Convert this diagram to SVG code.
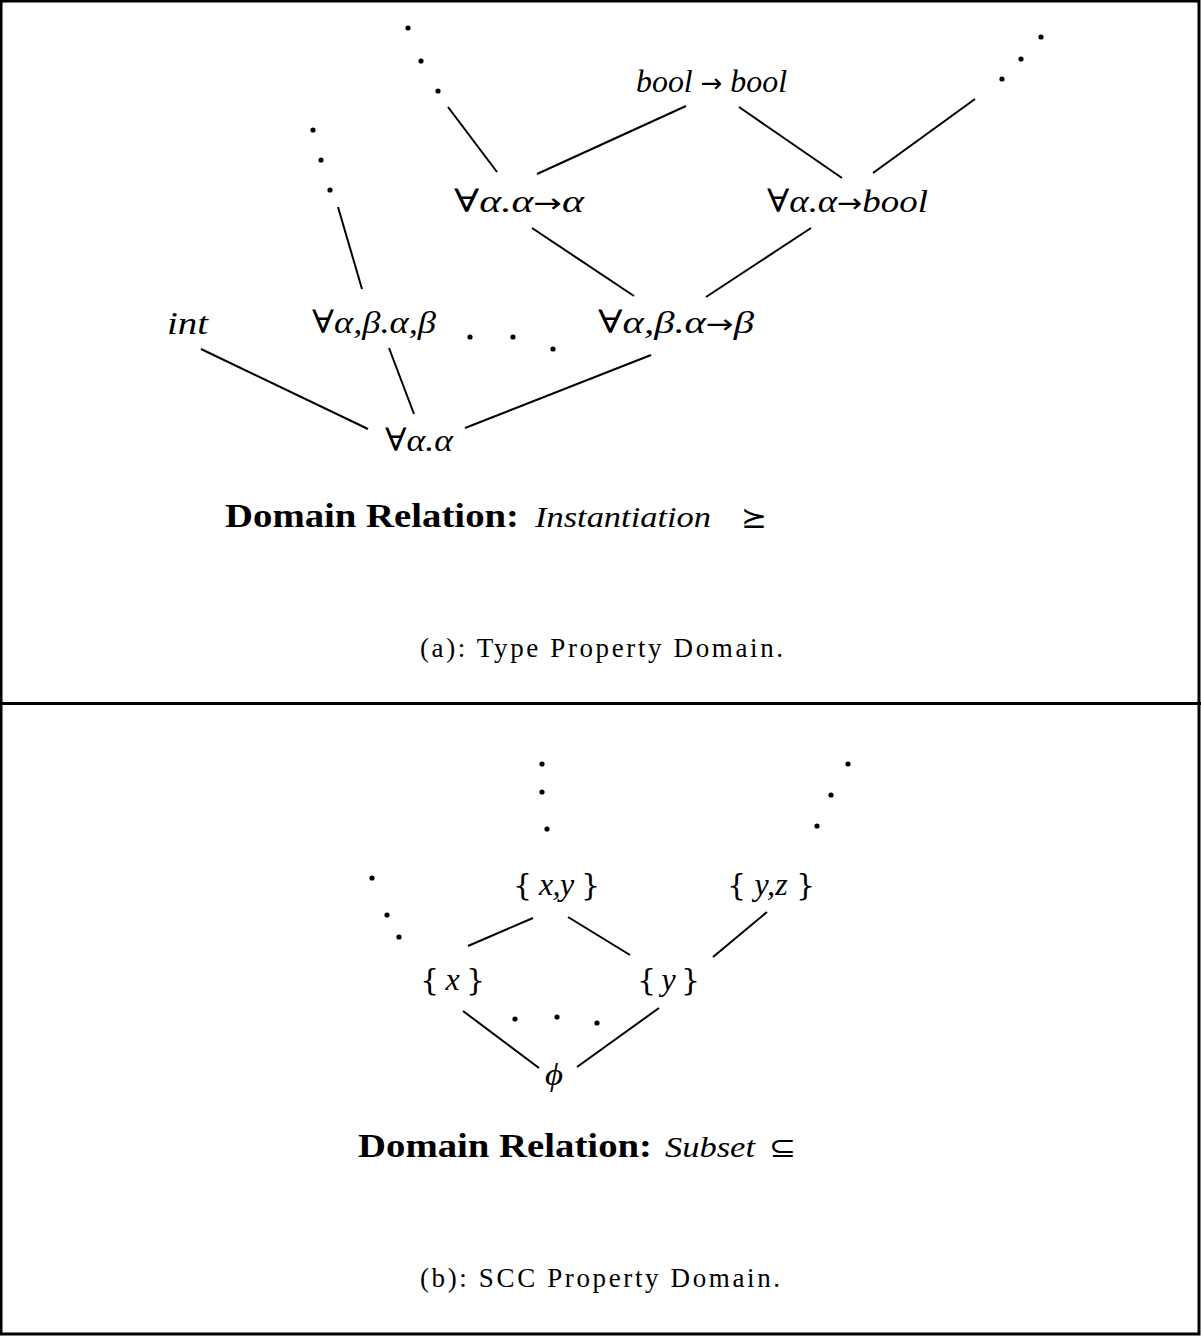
<svg xmlns="http://www.w3.org/2000/svg" width="1201" height="1336" viewBox="0 0 1201 1336">
<style>
.m{font-family:"Liberation Serif","DejaVu Serif",serif;font-size:32px;font-style:italic;fill:#000}
.u{font-style:normal}
.a{font-style:normal;font-family:"DejaVu Sans",sans-serif;font-size:26px}
.br{font-style:normal;font-family:"DejaVu Serif",serif;font-size:30px}
.b{font-family:"Liberation Serif","DejaVu Serif",serif;font-size:33px;font-weight:bold;fill:#000}
.i{font-family:"Liberation Serif","DejaVu Serif",serif;font-size:30px;font-style:italic;fill:#000}
.s{font-family:"DejaVu Sans",sans-serif;font-size:28px;fill:#000}
.c{font-family:"Liberation Serif","DejaVu Serif",serif;font-size:27px;fill:#000}
.e line{stroke:#000;stroke-width:2}
.d circle{fill:#000}
</style>
<rect x="0" y="0" width="1201" height="1336" fill="#fff"/>
<g id="frame" fill="none" stroke="#000">
<rect x="1" y="1" width="1198" height="1333" stroke-width="3"/>
<line x1="0" y1="703.5" x2="1201" y2="703.5" stroke-width="3"/>
</g>
<g id="connectors" class="e">
<line x1="448" y1="107" x2="497" y2="172"/>
<line x1="537" y1="174" x2="686" y2="106"/>
<line x1="739" y1="107" x2="842" y2="178"/>
<line x1="873" y1="173" x2="975" y2="99"/>
<line x1="532" y1="228" x2="634" y2="296"/>
<line x1="811" y1="228" x2="706" y2="297"/>
<line x1="338" y1="207" x2="362" y2="289"/>
<line x1="201" y1="349" x2="368" y2="429"/>
<line x1="389" y1="348" x2="414" y2="414"/>
<line x1="465" y1="428" x2="651" y2="355"/>
<line x1="468" y1="946" x2="533" y2="918"/>
<line x1="568" y1="917" x2="630" y2="955"/>
<line x1="713" y1="957" x2="767" y2="912"/>
<line x1="463" y1="1011" x2="539" y2="1068"/>
<line x1="577" y1="1067" x2="659" y2="1008"/>
</g>
<g id="dots" class="d">
<circle cx="408" cy="28" r="2.6"/><circle cx="421" cy="61" r="2.6"/><circle cx="438" cy="91" r="2.6"/>
<circle cx="313" cy="130" r="2.6"/><circle cx="321" cy="160" r="2.6"/><circle cx="330" cy="190" r="2.6"/>
<circle cx="1041" cy="37" r="2.6"/><circle cx="1021" cy="59" r="2.6"/><circle cx="1002" cy="79" r="2.6"/>
<circle cx="470" cy="337" r="2.6"/><circle cx="513" cy="337" r="2.6"/><circle cx="553" cy="349" r="2.6"/>
<circle cx="542" cy="764" r="2.6"/><circle cx="542" cy="792" r="2.6"/><circle cx="547" cy="829" r="2.6"/>
<circle cx="848" cy="764" r="2.6"/><circle cx="831" cy="795" r="2.6"/><circle cx="817" cy="826" r="2.6"/>
<circle cx="372" cy="878" r="2.6"/><circle cx="387" cy="915" r="2.6"/><circle cx="399" cy="937" r="2.6"/>
<circle cx="515" cy="1019" r="2.6"/><circle cx="557" cy="1017" r="2.6"/><circle cx="597" cy="1023" r="2.6"/>
</g>
<g id="n-boolbool"><text class="m" x="636" y="92" textLength="151" lengthAdjust="spacingAndGlyphs">bool <tspan class="a">→</tspan> bool</text></g>
<g id="n-aa"><text class="m" x="454" y="212" textLength="130" lengthAdjust="spacingAndGlyphs"><tspan class="u">∀</tspan>α.α<tspan class="a">→</tspan>α</text></g>
<g id="n-abool"><text class="m" x="767" y="212" textLength="161" lengthAdjust="spacingAndGlyphs"><tspan class="u">∀</tspan>α.α<tspan class="a">→</tspan>bool</text></g>
<g id="n-int"><text class="m" x="167" y="334" textLength="41" lengthAdjust="spacingAndGlyphs">int</text></g>
<g id="n-abab"><text class="m" x="312" y="333" textLength="124" lengthAdjust="spacingAndGlyphs"><tspan class="u">∀</tspan>α,β.α,β</text></g>
<g id="n-abb"><text class="m" x="598" y="333" textLength="156" lengthAdjust="spacingAndGlyphs"><tspan class="u">∀</tspan>α,β.α<tspan class="a">→</tspan>β</text></g>
<g id="n-a"><text class="m" x="385" y="451" textLength="68" lengthAdjust="spacingAndGlyphs"><tspan class="u">∀</tspan>α.α</text></g>
<g id="rel-a">
<text class="b" x="225" y="527" textLength="294" lengthAdjust="spacingAndGlyphs">Domain Relation:</text>
<text class="i" x="535" y="527" textLength="176" lengthAdjust="spacingAndGlyphs">Instantiation</text>
<text class="s" x="741" y="527" textLength="26" lengthAdjust="spacingAndGlyphs">⪰</text>
</g>
<g id="cap-a"><text class="c" x="420" y="657" textLength="363" lengthAdjust="spacing">(a): Type Property Domain.</text></g>
<g id="n-xy"><text class="m" x="513" y="895" textLength="87" lengthAdjust="spacing"><tspan class="br">{</tspan> x,y <tspan class="br">}</tspan></text></g>
<g id="n-yz"><text class="m" x="727" y="895" textLength="88" lengthAdjust="spacing"><tspan class="br">{</tspan> y,z <tspan class="br">}</tspan></text></g>
<g id="n-x"><text class="m" x="420" y="990" textLength="65" lengthAdjust="spacing"><tspan class="br">{</tspan> x <tspan class="br">}</tspan></text></g>
<g id="n-y"><text class="m" x="637" y="990" textLength="63" lengthAdjust="spacing"><tspan class="br">{</tspan> y <tspan class="br">}</tspan></text></g>
<g id="n-phi"><text class="m" x="545" y="1085" textLength="18" lengthAdjust="spacingAndGlyphs">ϕ</text></g>
<g id="rel-b">
<text class="b" x="358" y="1157" textLength="294" lengthAdjust="spacingAndGlyphs">Domain Relation:</text>
<text class="i" x="665" y="1157" textLength="90" lengthAdjust="spacingAndGlyphs">Subset</text>
<text class="s" x="769" y="1157" textLength="27" lengthAdjust="spacingAndGlyphs">⊆</text>
</g>
<g id="cap-b"><text class="c" x="420" y="1287" textLength="360" lengthAdjust="spacing">(b): SCC Property Domain.</text></g>
</svg>
